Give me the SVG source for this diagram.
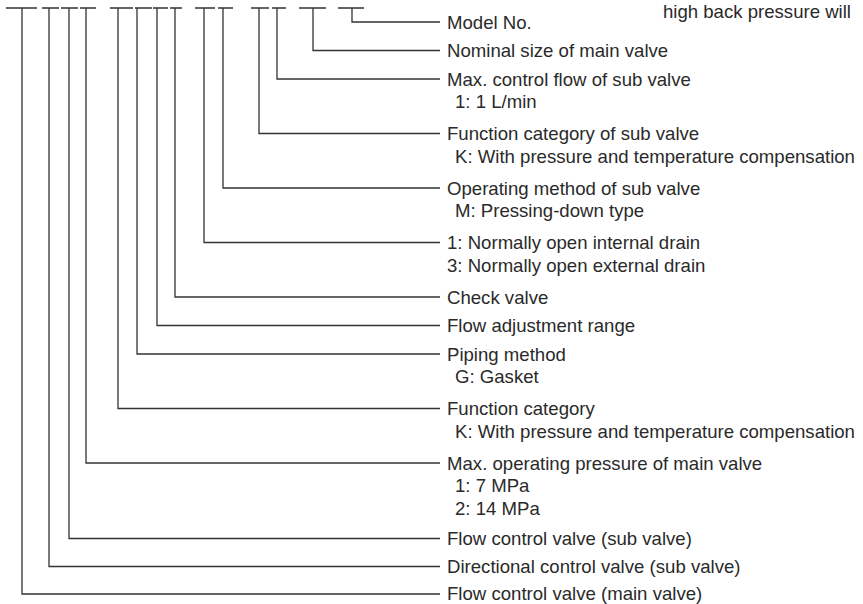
<svg xmlns="http://www.w3.org/2000/svg" width="863" height="604" viewBox="0 0 863 604">
<style>
.ln{fill:none;stroke:#333;stroke-width:1.3}
.t{font-family:"Liberation Sans",Arial,Helvetica,sans-serif;font-size:18.6px;fill:#2a2a2a}
</style>
<rect width="863" height="604" fill="#fff"/>
<g id="code-positions" class="ln">
<path d="M6 8H37M42 8H59M61 8H78M80 8H96M110 8H133M135 8H152M153 8H168M170 8H182M195 8H215M218 8H233M251 8H269M272 8H286M299 8H326M338 8H364"/>
</g>
<g id="connectors" class="ln">
<polyline points="352,8 352,22 440,22"/>
<polyline points="313,8 313,50.5 440,50.5"/>
<polyline points="277,8 277,79 440,79"/>
<polyline points="259,8 259,133.5 440,133.5"/>
<polyline points="223,8 223,188 440,188"/>
<polyline points="204,8 204,242.5 440,242.5"/>
<polyline points="175,8 175,297 440,297"/>
<polyline points="157,8 157,325.5 440,325.5"/>
<polyline points="137,8 137,354 440,354"/>
<polyline points="118,8 118,408.5 440,408.5"/>
<polyline points="86,8 86,463 440,463"/>
<polyline points="69,8 69,538.5 440,538.5"/>
<polyline points="49,8 49,566.5 440,566.5"/>
<polyline points="22,8 22,594 440,594"/>
</g>
<g class="t">
<g id="note"><text x="851" y="18" text-anchor="end">high back pressure will</text></g>
<g id="model-no"><text x="447" y="28.5">Model No.</text></g>
<g id="nominal-size"><text x="447" y="57">Nominal size of main valve</text></g>
<g id="max-control-flow"><text x="447" y="85.5">Max. control flow of sub valve</text><text x="455" y="108">1: 1 L/min</text></g>
<g id="function-category-sub"><text x="447" y="140">Function category of sub valve</text><text x="455" y="162.5">K: With pressure and temperature compensation</text></g>
<g id="operating-method"><text x="447" y="194.5">Operating method of sub valve</text><text x="455" y="217">M: Pressing-down type</text></g>
<g id="drain"><text x="447" y="249">1: Normally open internal drain</text><text x="447" y="271.5">3: Normally open external drain</text></g>
<g id="check-valve"><text x="447" y="303.5">Check valve</text></g>
<g id="flow-adjustment"><text x="447" y="332">Flow adjustment range</text></g>
<g id="piping-method"><text x="447" y="360.5">Piping method</text><text x="455" y="383">G: Gasket</text></g>
<g id="function-category"><text x="447" y="415">Function category</text><text x="455" y="437.5">K: With pressure and temperature compensation</text></g>
<g id="max-operating-pressure"><text x="447" y="469.5">Max. operating pressure of main valve</text><text x="455" y="492">1: 7 MPa</text><text x="455" y="514.5">2: 14 MPa</text></g>
<g id="flow-control-sub"><text x="447" y="545">Flow control valve (sub valve)</text></g>
<g id="directional-control-sub"><text x="447" y="573">Directional control valve (sub valve)</text></g>
<g id="flow-control-main"><text x="447" y="599.5">Flow control valve (main valve)</text></g>
</g>
</svg>
